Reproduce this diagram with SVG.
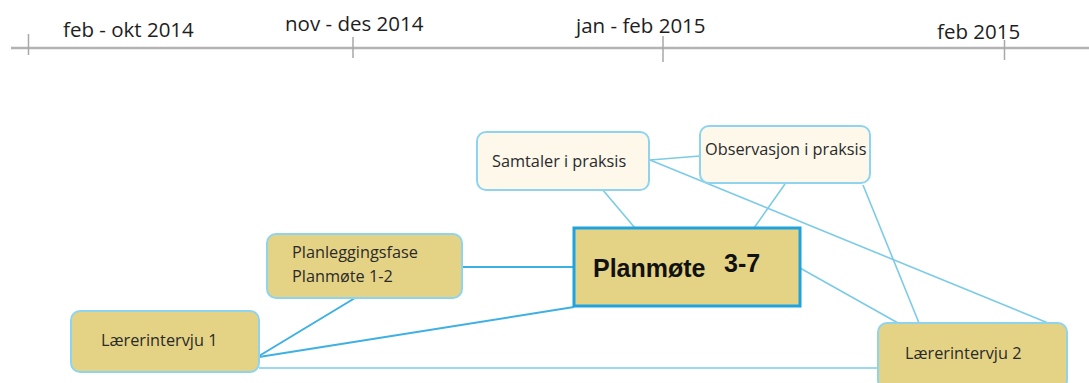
<svg xmlns="http://www.w3.org/2000/svg" width="1089" height="383" viewBox="0 0 1089 383">
  <style>
    .axis { stroke: #b3b3b3; stroke-width: 2.5; fill: none; }
    .tick { stroke: #a8a8a8; stroke-width: 1.5; }
    .period { font-family: "Open Sans", "Liberation Sans", sans-serif; font-size: 20.5px; fill: #1e1e1e; }
    .cream { fill: #fdf8ea; stroke: #8fd4ef; stroke-width: 2; }
    .gold { fill: #e5d385; stroke: #8fd4ef; stroke-width: 2; }
    .main { fill: #e5d385; stroke: #1ea3e0; stroke-width: 3; }
    .label { font-family: "Open Sans", "Liberation Sans", sans-serif; font-size: 16.3px; fill: #2a2a2a; }
    .big { font-family: "Liberation Sans", Arial, sans-serif; font-size: 25px; font-weight: bold; fill: #111; }
    .link { stroke: #7ccbe6; stroke-width: 1.6; fill: none; }
    .link-strong { stroke: #3eb0e2; stroke-width: 2; fill: none; }
  </style>

  <!-- timeline -->
  <g id="timeline">
    <line class="axis" x1="11" y1="48" x2="1089" y2="48"/>
    <line class="tick" x1="28.5" y1="34" x2="28.5" y2="55"/>
    <line class="tick" x1="353" y1="37" x2="353" y2="58"/>
    <line class="tick" x1="663" y1="36" x2="663" y2="62"/>
    <line class="tick" x1="1004.5" y1="40" x2="1004.5" y2="60"/>
    <text class="period" x="63" y="37">feb - okt 2014</text>
    <text class="period" x="285" y="31">nov - des 2014</text>
    <text class="period" x="576" y="33">jan - feb 2015</text>
    <text class="period" x="937" y="39">feb 2015</text>
  </g>

  <!-- connectors -->
  <g id="connectors">
    <line class="link" x1="650" y1="160" x2="700" y2="156"/>
    <line class="link" x1="650" y1="160" x2="1048" y2="323"/>
    <line class="link" x1="602" y1="189" x2="635" y2="228"/>
    <line class="link" x1="785" y1="184" x2="754" y2="228"/>
    <line class="link" x1="863" y1="185" x2="919" y2="323"/>
    <line class="link" x1="800" y1="268" x2="898" y2="323"/>
    <line class="link-strong" x1="462" y1="267" x2="574" y2="267"/>
    <line class="link-strong" x1="355" y1="298" x2="259" y2="356"/>
    <line class="link-strong" x1="574" y1="307" x2="259" y2="357"/>
    <line class="link" x1="259" y1="368" x2="878" y2="368"/>
  </g>

  <!-- nodes -->
  <g id="samtaler">
    <rect class="cream" x="477" y="132" width="172" height="58" rx="9"/>
    <text class="label" x="492" y="167">Samtaler i praksis</text>
  </g>
  <g id="observasjon">
    <rect class="cream" x="700" y="126" width="170" height="57" rx="9"/>
    <text class="label" x="705" y="155">Observasjon i praksis</text>
  </g>
  <g id="planlegging">
    <rect class="gold" x="267" y="234" width="195" height="64" rx="9"/>
    <text class="label" x="292" y="258">Planleggingsfase</text>
    <text class="label" x="292" y="282">Planmøte 1-2</text>
  </g>
  <g id="planmote">
    <rect class="main" x="574" y="228" width="226" height="78"/>
    <text class="big" x="593" y="277">Planmøte</text>
    <text class="big" x="724" y="272">3-7</text>
  </g>
  <g id="intervju1">
    <rect class="gold" x="71" y="311" width="188" height="61" rx="9"/>
    <text class="label" x="101" y="346">Lærerintervju 1</text>
  </g>
  <g id="intervju2">
    <rect class="gold" x="878" y="323" width="189" height="66" rx="9"/>
    <text class="label" x="905" y="359">Lærerintervju 2</text>
  </g>
</svg>
